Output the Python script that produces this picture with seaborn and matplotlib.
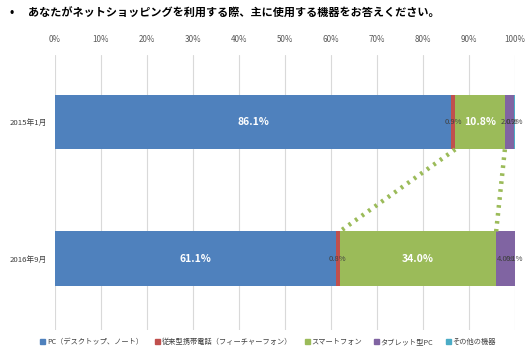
import matplotlib
matplotlib.use("Agg")
import matplotlib.pyplot as plt
import seaborn as sns
import pandas as pd
import numpy as np

periods = ["2015年1月", "2016年9月"]
series = ["PC（デスクトップ、ノート）", "従来型携帯電話（フィーチャーフォン）", "スマートフォン", "タブレット型PC", "その他の機器"]
pc = [86.1, 61.1]
feature = [0.9, 0.8]
smart = [10.8, 34.0]
tablet = [2.0, 4.0]
other = [0.2, 0.1]
colors = ["#4F81BD", "#C0504D", "#9BBB59", "#8064A2", "#4BACC6"]
ticks = [0, 10, 20, 30, 40, 50, 60, 70, 80, 90, 100]
title = "あなたがネットショッピングを利用する際、主に使用する機器をお答えください。"

sns.set_theme(style="white")
plt.rcParams['font.family'] = ['Noto Sans CJK JP', 'DejaVu Sans']

vals = np.array([pc, feature, smart, tablet, other])
cum = np.cumsum(vals, axis=0)

fig = plt.figure(figsize=(5.29, 3.55), dpi=100)
ax = fig.add_axes([55/529, 1-330/355, 460/529, (330-55)/355])

for i in range(len(series) - 1, -1, -1):
    df = pd.DataFrame({"period": periods, "value": cum[i]})
    sns.barplot(data=df, x="value", y="period", orient="h", color=colors[i],
                width=0.40, ax=ax, saturation=1, edgecolor="none", linewidth=0)
if ax.get_legend() is not None:
    ax.get_legend().remove()

ax.set_xlim(0, 100)
ax.set_ylim(1.52, -0.49)
ax.set_xticks(ticks)
ax.set_xticklabels([f"{t}%" for t in ticks], fontsize=5.8, color="#595959")
ax.xaxis.tick_top()
ax.tick_params(axis="x", length=0, pad=8)
ax.tick_params(axis="y", length=0, pad=5.5)
ax.set_yticklabels(periods, fontsize=5.6, color="#404040")
ax.set_xlabel("")
ax.set_ylabel("")
for s in ax.spines.values():
    s.set_visible(False)
ax.grid(axis="x", color="#D9D9D9", linewidth=0.8)
ax.set_axisbelow(True)

# connector lines
h = 0.20
ax.plot([cum[1][0], cum[1][1]], [0 + h, 1 - h], linestyle=(0, (0.6, 1.2)),
        color="#9BBB59", linewidth=3.2, dash_capstyle="butt", zorder=3)
ax.plot([cum[2][0], cum[2][1]], [0 + h, 1 - h], linestyle=(0, (0.6, 1.2)),
        color="#9BBB59", linewidth=3.2, dash_capstyle="butt", zorder=3)

# labels
for j in range(len(periods)):
    start = 0
    for i in range(len(series)):
        v = vals[i][j]
        c = start + v / 2
        if v >= 10:
            ax.text(c, j, f"{v:.1f}%", ha="center", va="center", color="white",
                    fontsize=7.5, fontweight="bold", zorder=4)
        else:
            ax.text(c, j, f"{v:.1f}%", ha="center", va="center", color="#404040",
                    fontsize=5.5, zorder=4)
        start += v

handles = [plt.Rectangle((0, 0), 1, 1, color=c) for c in colors]
fig.legend(handles, series, loc="center", bbox_to_anchor=(268/529, 1-342/355),
           ncol=5, frameon=False, fontsize=5.2, handlelength=0.7, handleheight=0.7,
           handletextpad=0.2, columnspacing=1.7, labelcolor="#404040")

fig.text(10/529, 1-13/355, "•", fontsize=8, fontweight="bold", va="center", color="#000000")
fig.text(28/529, 1-13/355, title, fontsize=8, fontweight="bold", va="center", color="#000000")

fig.savefig("out.png", dpi=100)
